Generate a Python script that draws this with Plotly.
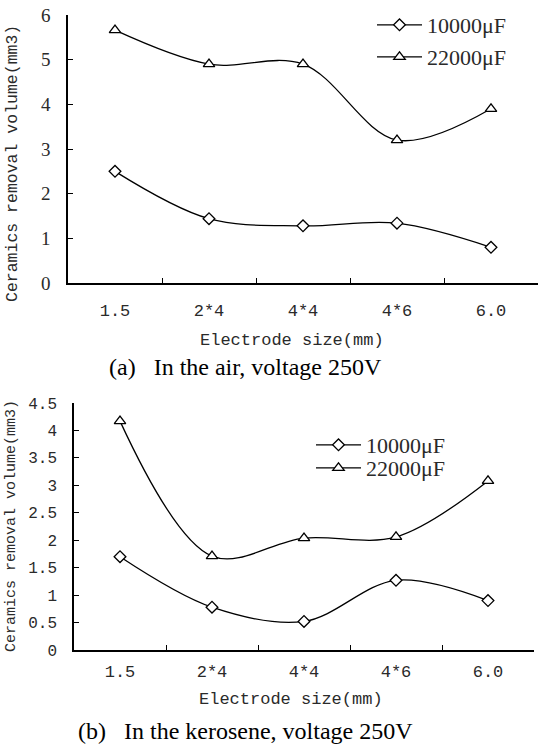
import plotly.graph_objects as go

W, H = 538, 746

categories = ["1.5", "2*4", "4*4", "4*6", "6.0"]
air_10000 = [2.5, 1.44, 1.28, 1.34, 0.8]
air_22000 = [5.66, 4.9, 4.9, 3.2, 3.9]
ker_10000 = [1.7, 0.78, 0.52, 1.27, 0.9]
ker_22000 = [4.17, 1.71, 2.04, 2.06, 3.08]
series_names = ["10000μF", "22000μF"]
top_yticks = [0, 1, 2, 3, 4, 5, 6]
bot_yticks = [0, 0.5, 1, 1.5, 2, 2.5, 3, 3.5, 4, 4.5]
bot_yticklabels = ["0", "0.5", "1", "1.5", "2", "2.5", "3", "3.5", "4", "4.5"]

MONO = "Liberation Mono"
SERIF = "Liberation Serif"
TXT = "#2a2a2a"
NB = "\u00a0"


def px_x(p):
    return p / W


def px_y(p):
    return (H - p) / H


fig = go.Figure()

line_style = dict(color="black", width=1.3, shape="spline", smoothing=1.0)
diamond = dict(symbol="diamond", size=9, color="white", line=dict(color="black", width=1.3))
triangle = dict(symbol="triangle-up", size=10, color="white", line=dict(color="black", width=1.3))

traces = [
    (air_10000, series_names[0], diamond, "x", "y", "legend"),
    (air_22000, series_names[1], triangle, "x", "y", "legend2"),
    (ker_10000, series_names[0], diamond, "x2", "y2", "legend3"),
    (ker_22000, series_names[1], triangle, "x2", "y2", "legend4"),
]
for vals, name, mk, xa, ya, lg in traces:
    fig.add_trace(go.Scatter(x=categories, y=vals, name=name, mode="lines+markers",
                             line=line_style, marker=mk, xaxis=xa, yaxis=ya, legend=lg))

xcommon = dict(type="category", range=[-0.5, 4.5], showline=True, linecolor="black", linewidth=1.5,
               ticks="inside", tickson="boundaries", ticklen=5, tickcolor="black", tickwidth=1.3,
               showgrid=False, zeroline=False, fixedrange=True, automargin=False,
               tickfont=dict(family=MONO, size=17, color=TXT))
ycommon = dict(showline=True, linecolor="black", linewidth=1.5, ticks="inside", ticklen=5,
               tickcolor="black", tickwidth=1.3, showgrid=False, zeroline=False, fixedrange=True,
               automargin=False)


def leg(xp, yp):
    return dict(x=px_x(xp), y=px_y(yp), xanchor="left", yanchor="middle",
                font=dict(family=SERIF, size=22, color=TXT), bgcolor="rgba(0,0,0,0)",
                itemwidth=45, borderwidth=0)


fig.update_layout(
    template="none",
    width=W, height=H, autosize=False,
    margin=dict(l=0, r=0, t=0, b=0, pad=0),
    paper_bgcolor="white", plot_bgcolor="white",
    showlegend=True,
    xaxis=dict(xcommon, domain=[px_x(68), 1.0], anchor="y", ticklabelstandoff=11),
    yaxis=dict(ycommon, domain=[px_y(283), px_y(15)], range=[0, 6], anchor="x",
               tickvals=top_yticks, tickfont=dict(family=SERIF, size=19, color=TXT),
               ticklabelstandoff=12),
    xaxis2=dict(xcommon, domain=[px_x(74), px_x(534)], anchor="y2", ticklabelstandoff=5),
    yaxis2=dict(ycommon, domain=[px_y(650), px_y(403)], range=[0, 4.5], anchor="x2",
                tickvals=bot_yticks, ticktext=bot_yticklabels,
                tickfont=dict(family=MONO, size=16, color=TXT), ticklabelstandoff=12),
    legend=leg(372, 25),
    legend2=leg(372, 57),
    legend3=leg(311, 445),
    legend4=leg(311, 468),
)

annotations = [
    dict(text="Ceramics removal volume(mm3)", x=px_x(12), y=px_y(164), xref="paper", yref="paper",
         textangle=-90, showarrow=False, font=dict(family=MONO, size=16.5, color=TXT),
         xanchor="center", yanchor="middle"),
    dict(text="Ceramics removal volume(mm3)", x=px_x(11), y=px_y(526), xref="paper", yref="paper",
         textangle=-90, showarrow=False, font=dict(family=MONO, size=15, color=TXT),
         xanchor="center", yanchor="middle"),
    dict(text="Electrode size(mm)", x=px_x(292), y=px_y(340), xref="paper", yref="paper",
         showarrow=False, font=dict(family=MONO, size=17, color=TXT), xanchor="center", yanchor="middle"),
    dict(text="Electrode size(mm)", x=px_x(291), y=px_y(699), xref="paper", yref="paper",
         showarrow=False, font=dict(family=MONO, size=17, color=TXT), xanchor="center", yanchor="middle"),
    dict(text="(a)" + NB * 3 + "In the air, voltage 250V", x=px_x(245), y=px_y(367), xref="paper", yref="paper",
         showarrow=False, font=dict(family=SERIF, size=24, color="black"), xanchor="center", yanchor="middle"),
    dict(text="(b)" + NB * 3 + "In the kerosene, voltage 250V", x=px_x(245), y=px_y(731), xref="paper",
         yref="paper", showarrow=False, font=dict(family=SERIF, size=24, color="black"),
         xanchor="center", yanchor="middle"),
]
fig.update_layout(annotations=annotations)

fig.write_html("out.html", config={"displayModeBar": False},
               post_script="document.body.style.margin='0';document.body.style.overflow='hidden';")
